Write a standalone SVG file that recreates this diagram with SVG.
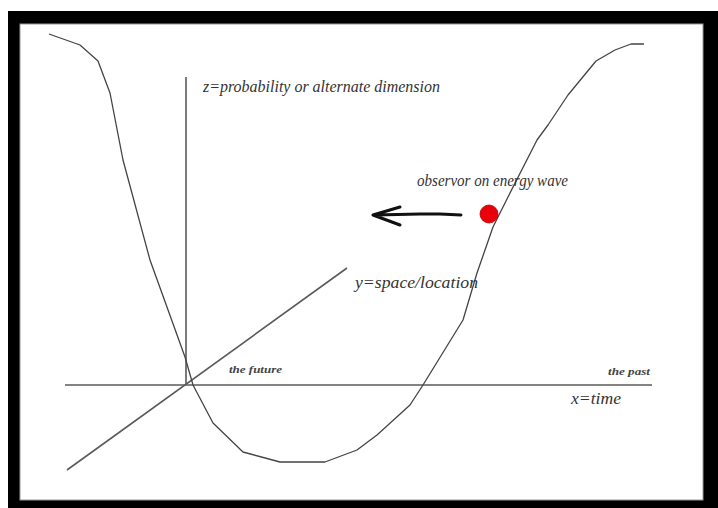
<svg xmlns="http://www.w3.org/2000/svg" width="718" height="508" viewBox="0 0 718 508">
<style>
.ax{stroke:#5a5a5a;stroke-width:1.6;fill:none}
.wave{stroke:#444;stroke-width:1.3;fill:none;stroke-linejoin:round}
.lbl{font-family:'Liberation Serif','Times New Roman',serif;font-style:italic;fill:#333}
.big{font-size:16px}
.small{font-size:11px;font-weight:bold;fill:#444}
</style>
<rect x="0" y="0" width="718" height="508" fill="#fff"/>
<rect x="8" y="11" width="710" height="497" fill="#000"/>
<rect x="20" y="24" width="683" height="476" fill="#fff" stroke="#999" stroke-width="1"/>
<g id="connectors">
<line id="x-axis" class="ax" x1="65" y1="385" x2="652" y2="385"/>
<line id="z-axis" class="ax" x1="186" y1="77" x2="186" y2="385"/>
<line id="y-axis" class="ax" x1="67" y1="470" x2="347" y2="268"/>
<polyline id="energy-wave" class="wave" points="49,34 80,45 98,61 110,93 123,160 150,260 185,357 193,385 213,423 243,452 280,462 325,462 357,450 377,435 410,405 423,385 463,320 477,273 493,227 508,197 537,140 548,125 568,95 596,61 615,50 631,44 644,44"/>
<path id="arrow" d="M461,215 L440,214 L420,214 L375,215 M373,215 L400,207 M373,215 L400,225" stroke="#111" stroke-width="3" fill="none" stroke-linecap="round" stroke-linejoin="round"/>
</g>
<g id="observer">
<circle cx="489" cy="214" r="9" fill="#e8000a" stroke="#b00" stroke-width="0.8"/>
</g>
<g id="labels">
<text class="lbl big" x="203" y="92" textLength="237" lengthAdjust="spacingAndGlyphs">z=probability or alternate dimension</text>
<text class="lbl big" x="417" y="186" textLength="151" lengthAdjust="spacingAndGlyphs">observor on energy wave</text>
<text class="lbl big" x="355" y="288" textLength="123" lengthAdjust="spacingAndGlyphs">y=space/location</text>
<text class="lbl small" x="229" y="373" textLength="53" lengthAdjust="spacingAndGlyphs">the future</text>
<text class="lbl small" x="608" y="375" textLength="42" lengthAdjust="spacingAndGlyphs">the past</text>
<text class="lbl big" x="571" y="404" textLength="50" lengthAdjust="spacingAndGlyphs">x=time</text>
</g>
</svg>
